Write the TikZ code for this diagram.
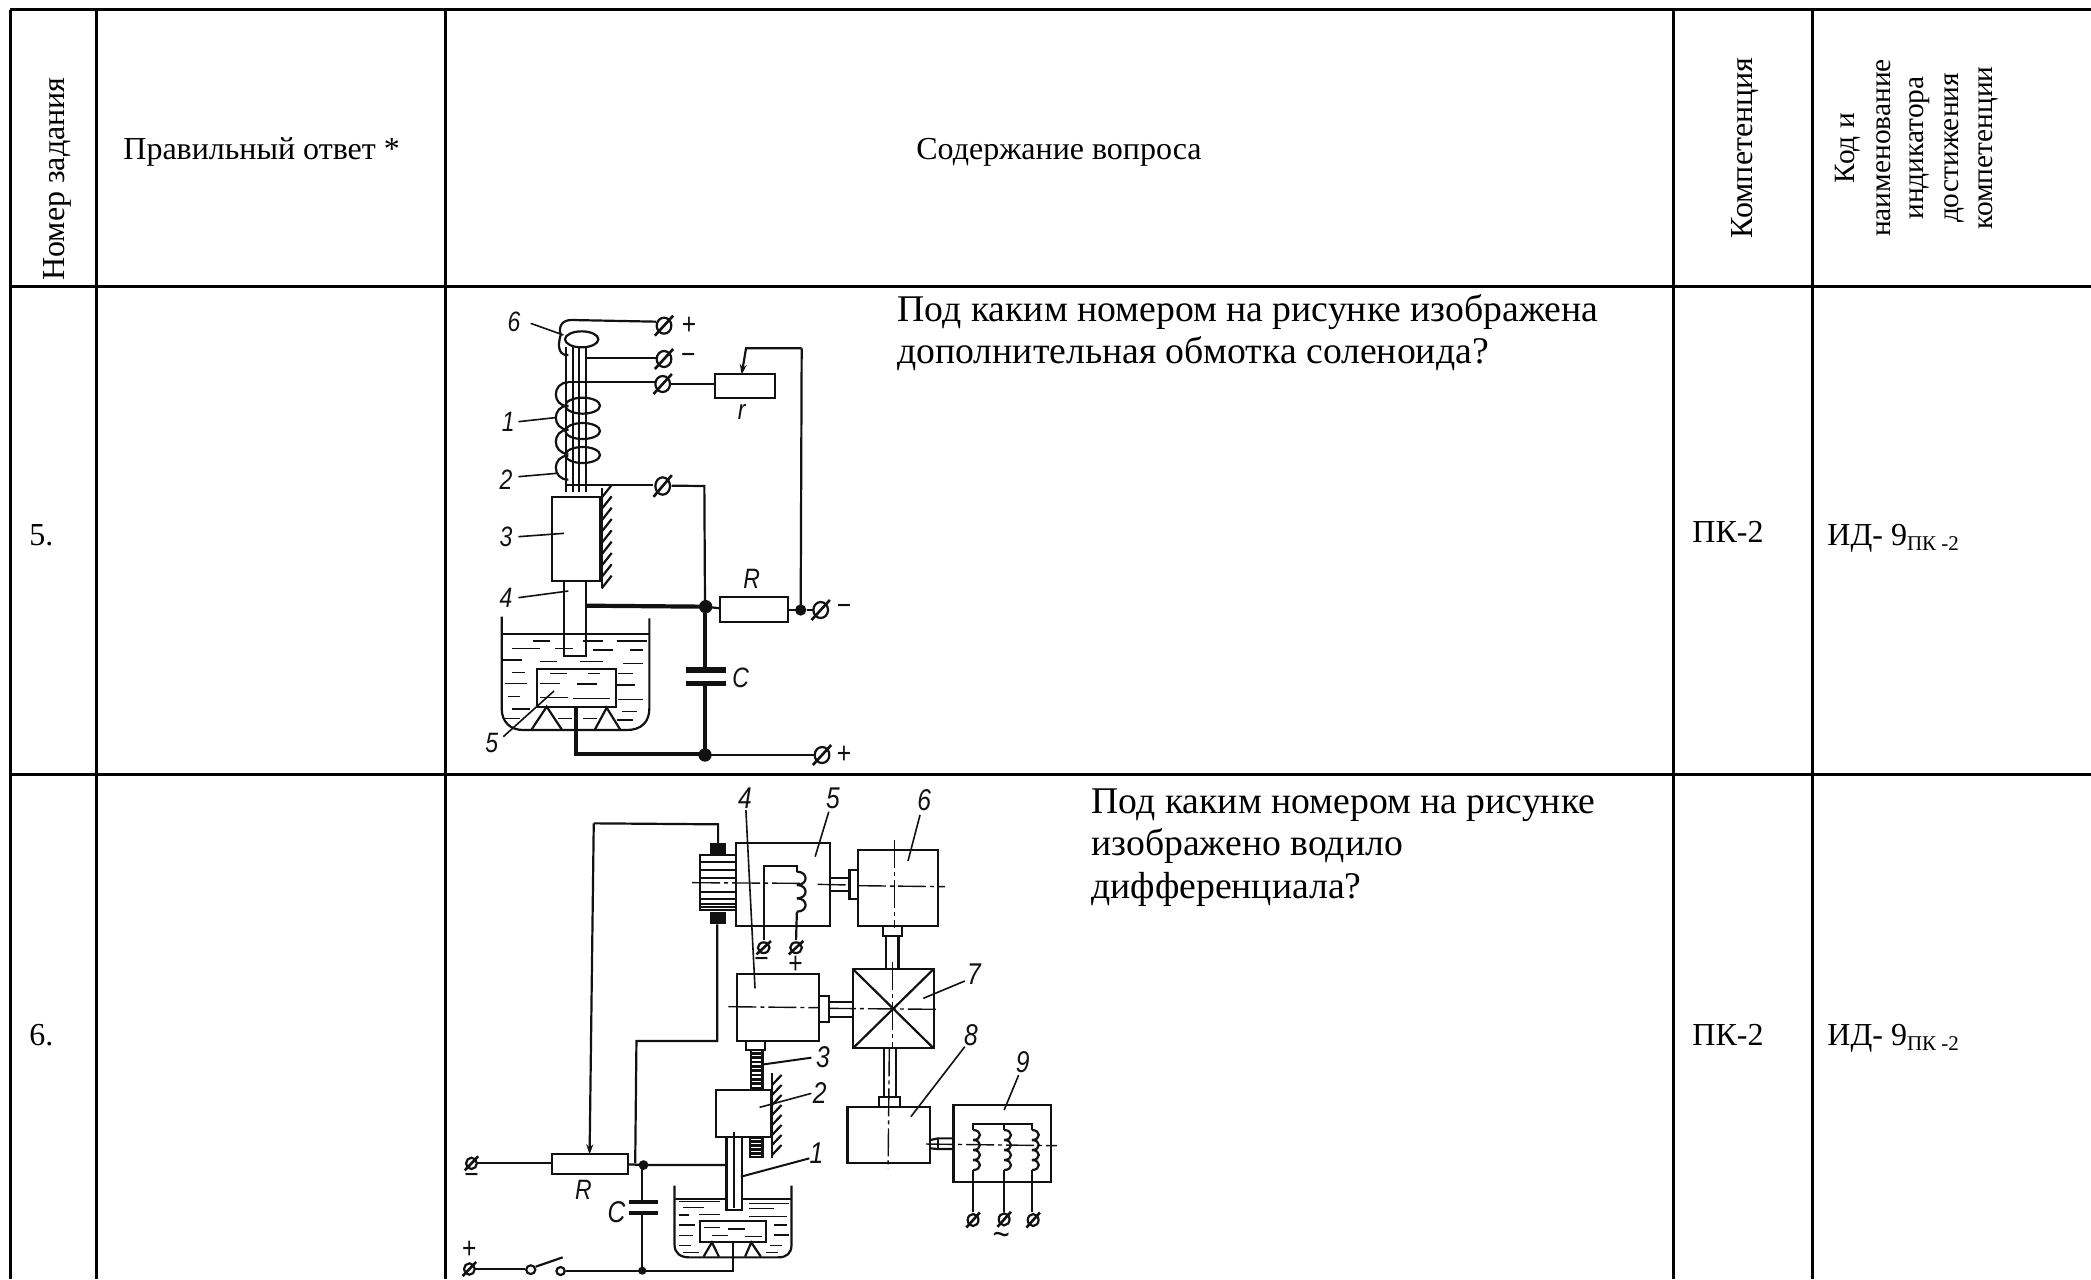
\documentclass[tikz,border=0pt]{standalone}
\usepackage{fontspec}
\setmainfont{Liberation Serif}
\newfontfamily\lblfont{Liberation Sans}[FakeStretch=0.82,ItalicFont=* Italic]
\usetikzlibrary{arrows.meta}
\definecolor{ink}{HTML}{111111}
\tikzset{
  grid/.style={line width=1.5pt,black},
  hdr/.style={font=\fontsize{16}{16}\selectfont,text=black,inner sep=0pt},
  hdrs/.style={font=\fontsize{14.7}{15}\selectfont,text=black,inner sep=0pt,rotate=90},
  qtext/.style={font=\fontsize{18.85}{19}\selectfont,text=black,inner sep=0pt,anchor=mid west},
  lbl/.style={font=\lblfont\itshape\fontsize{14}{14}\selectfont,text=ink,inner sep=0pt},
  lblb/.style={font=\lblfont\itshape\fontsize{15}{15}\selectfont,text=ink,inner sep=0pt},
  sym/.style={font=\lblfont\fontsize{15}{15}\selectfont,text=ink,inner sep=0pt},
  thin wire/.style={line width=1.1pt,ink},
  thick wire/.style={line width=2.1pt,ink},
  hair/.style={line width=0.8pt,ink},
  axis/.style={line width=0.7pt,ink,dash pattern=on 14pt off 2pt on 2pt off 2pt},
  blade/.style={line width=1.1pt,ink,-{Stealth[length=5pt,width=3.5pt]}},
}
\newcommand{\myterm}[4]{%
  \draw[thin wire,line width=1.1pt] (#1,#2) ellipse [x radius=#3,y radius=#4];
  \draw[thin wire,line width=1.3pt] (#1,#2) ++(-1.25*#3,1.25*#4) -- ++(2.5*#3,-2.5*#4);}
\newcommand{\mybumps}[5]{% x, ystart, step, count, width
  \foreach \k in {1,...,#4}{
    \pgfmathsetmacro{\ya}{#2+(\k-1)*#3}
    \pgfmathsetmacro{\yb}{#2+\k*#3}
    \draw[thin wire] (#1,\ya) .. controls (#1+#5,\ya) and (#1+#5,\yb) .. (#1,\yb);
  }}
\begin{document}
\begin{tikzpicture}[x=0.5pt,y=-0.5pt]
\useasboundingbox (0,0) rectangle (2091,1279);
\fill[white] (0,0) rectangle (2091,1279);
% table grid
\draw[grid] (10,10) -- (2091,10);
\draw[grid] (10,286) -- (2091,286);
\draw[grid] (10,774) -- (2091,774);
\foreach \vx in {10,96,445,1673,1812} \draw[grid] (\vx,10) -- (\vx,1279);
% header
\node[hdr,rotate=90] (hnum) at (57,179) {Номер задания};
\node[hdr,anchor=mid west] (hans) at (123,155) {Правильный ответ *};
\node[hdr] (hq) at (1059,152) {Содержание вопроса};
\node[hdr,rotate=90] (hcomp) at (1745,148) {Компетенция};
\node[hdrs] (hk1) at (1848,148) {Код и};
\node[hdrs] (hk2) at (1884,148) {наименование};
\node[hdrs] (hk3) at (1920,148) {индикатора};
\node[hdrs] (hk4) at (1954,148) {достижения};
\node[hdrs] (hk5) at (1988,148) {компетенции};
% rows
\node[hdr,anchor=mid west] (n5) at (29,541) {5.};
\node[hdr,anchor=mid west] (n6) at (29,1041) {6.};
\node[hdr,anchor=mid west] (c5) at (1692,538) {ПК-2};
\node[hdr,anchor=mid west] (c6) at (1692,1041) {ПК-2};
\node[hdr,anchor=mid west] (i5) at (1827,541) {ИД- 9\raisebox{-0.3ex}{\fontsize{10.5}{10.5}\selectfont ПК -2}};
\node[hdr,anchor=mid west] (i6) at (1827,1041) {ИД- 9\raisebox{-0.3ex}{\fontsize{10.5}{10.5}\selectfont ПК -2}};
\node[qtext] (q5a) at (897,317) {Под каким номером на рисунке изображена};
\node[qtext] (q5b) at (897,359) {дополнительная обмотка соленоида?};
\node[qtext] (q6a) at (1091,809) {Под каким номером на рисунке};
\node[qtext] (q6b) at (1091,851) {изображено водило};
\node[qtext] (q6c) at (1091,894) {дифференциала?};

% ===== Figure 1 (solenoid), zoom coordinates =====
\begin{scope}[shift={(440,285)},x=0.16667pt,y=-0.16667pt]
  \draw[thin wire] (648,110) -- (395,105) .. controls (365,105) and (355,125) .. (362,150) .. controls (350,190) and (360,212) .. (385,210);
  \draw[thin wire] (425,163) ellipse [x radius=50,y radius=24];
  \foreach \cx in {378,398,418,438} \draw[thin wire] (\cx,186) -- (\cx,620);
  \myterm{672}{122}{22}{24}
  \node[sym] (p1) at (747,122) {+};
  \draw[thin wire] (438,218) -- (648,218);
  \myterm{672}{222}{22}{24}
  \node[sym] (m1) at (745,222) {−};
  \draw[thin wire] (438,292) -- (648,292);
  \myterm{668}{297}{22}{24}
  \draw[thin wire] (692,297) -- (825,297);
  \draw[thin wire] (825,268) rectangle (1005,338);
  \node[lbl] (lr) at (905,380) {r};
  \draw[blade] (1085,190) -- (918,190) -- (905,268);
  \draw[thin wire] (1085,190) -- (1082,975);
  % winding
  \foreach \yy in {328,398,470,548}
    \draw[thin wire] (385,\yy-36) .. controls (335,\yy-36) and (335,\yy+36) .. (385,\yy+36);
  \foreach \yy in {362,438,510}
    \draw[thin wire] (428,\yy) ellipse [x radius=52,y radius=24];
  \draw[thin wire] (438,292) -- (385,292);
  \draw[thin wire] (378,600) -- (640,600);
  \myterm{668}{603}{22}{26}
  \draw[thin wire] (695,602) -- (793,603) -- (795,965);
  % block 3 and wall
  \draw[thin wire] (335,637) rectangle (480,888);
  \draw[thin wire] (485,610) -- (485,910);
  \foreach \hy in {600,634,668,702,736,770,804,838,872}
    \draw[thin wire] (485,\hy+38) -- (515,\hy);
  % electrode
  \draw[thin wire] (372,888) -- (372,1112) -- (437,1112) -- (437,888);
  % R branch
  \draw[thick wire] (437,962) -- (795,965);
  \fill[ink] (797,965) circle [radius=20];
  \draw[thin wire] (840,935) rectangle (1045,1010);
  \draw[thin wire] (797,965) -- (840,970);
  \draw[thin wire] (1045,975) -- (1082,975);
  \fill[ink] (1082,975) circle [radius=17];
  \myterm{1142}{975}{22}{24}
  \draw[thin wire] (1100,975) -- (1120,975);
  \node[sym] (m2) at (1212,975) {−};
  \node[lbl] (lR) at (935,882) {R};
  % capacitor
  \draw[thick wire] (795,965) -- (795,1150);
  \draw[thick wire,line width=2.6pt] (738,1155) -- (858,1155);
  \draw[thick wire,line width=2.6pt] (738,1195) -- (858,1195);
  \draw[thick wire] (795,1195) -- (795,1410);
  \node[lbl] (lC) at (902,1178) {C};
  \fill[ink] (795,1410) circle [radius=20];
  \draw[thick wire] (408,1268) -- (408,1408) -- (795,1408);
  \draw[thin wire] (795,1410) -- (1122,1410);
  \myterm{1146}{1410}{22}{24}
  \node[sym] (p2) at (1212,1410) {+};
  % tank
  \draw[thin wire] (185,995) -- (185,1270) .. controls (185,1310) and (210,1335) .. (250,1335) -- (560,1335) .. controls (605,1335) and (628,1310) .. (628,1270) -- (628,1000);
  \draw[thin wire] (185,1048) -- (628,1048);
  \draw[thin wire] (290,1152) rectangle (528,1265);
  \draw[thin wire] (275,1333) -- (320,1265) -- (365,1333);
  \draw[thin wire] (465,1333) -- (500,1268) -- (540,1333);
  \foreach \xa/\xb/\yy in {280/330/1068,430/490/1068,530/620/1068,215/300/1090,345/400/1090,460/520/1095,570/610/1095,190/245/1125,300/350/1130,420/490/1130,550/610/1135,215/255/1162,330/380/1165,445/480/1165,535/580/1165,195/260/1195,300/360/1195,410/470/1197,530/585/1200,205/240/1235,300/385/1237,400/510/1240,535/610/1243,215/270/1272,545/590/1280,190/240/1300,355/395/1300,430/470/1300,530/580/1305}
    \draw[hair] (\xa,\yy) -- (\xb,\yy);
  % labels
  \node[lbl] (l6) at (222,110) {6};
  \draw[hair] (272,115) -- (370,150);
  \node[lbl] (l1) at (205,412) {1};
  \draw[hair] (235,410) -- (345,398);
  \node[lbl] (l2) at (198,585) {2};
  \draw[hair] (235,575) -- (350,565);
  \node[lbl] (l3) at (198,755) {3};
  \draw[hair] (235,755) -- (372,745);
  \node[lbl] (l4) at (198,940) {4};
  \draw[hair] (235,938) -- (385,918);
  \node[lbl] (l5) at (155,1375) {5};
  \draw[hair] (190,1355) -- (342,1218);
\end{scope}

% ===== Figure 2, zoom coordinates (x 2.41 px per unit, y 3) =====
\begin{scope}[shift={(430,775)},x=0.20727pt,y=-0.16667pt]
  % coil assembly
  \draw[thin wire] (395,145) -- (695,148) -- (695,205);
  \draw[blade] (395,145) -- (385,1138);
  \fill[ink] (675,205) rectangle (715,240);
  \fill[ink] (675,410) rectangle (715,448);
  \draw[thin wire] (652,240) rectangle (738,405);
  \foreach \yy in {262,285,308,350,372,386,396} \draw[thin wire] (652,\yy) -- (738,\yy);
  \draw[thin wire] (738,205) rectangle (965,452);
  \draw[axis] (632,323) -- (895,325);
  \draw[axis] (935,328) -- (1010,330);
  \draw[thin wire] (805,495) -- (805,272) -- (885,272) -- (885,290);
  \mybumps{885}{290}{40}{3}{28}
  \draw[thin wire] (885,410) -- (883,495);
  \myterm{805}{518}{14}{16}
  \myterm{883}{518}{14}{16}
  \node[sym] (mm) at (800,565) {−};
  \node[sym] (pp) at (882,570) {+};
  % box 6
  \draw[thin wire] (965,310) -- (1012,310);
  \draw[thin wire] (965,348) -- (1012,348);
  \draw[thin wire] (1012,285) rectangle (1032,372);
  \draw[thin wire] (1032,225) rectangle (1225,453);
  \draw[axis] (1120,195) -- (1120,460);
  \draw[axis] (1032,332) -- (1242,335);
  \draw[thin wire] (1092,453) rectangle (1138,482);
  \draw[thin wire] (1100,482) -- (1100,582);
  \draw[thin wire] (1130,482) -- (1130,582);
  % box 7
  \draw[thin wire] (1020,582) rectangle (1215,820);
  \draw[thin wire] (1020,582) -- (1215,820);
  \draw[thin wire] (1215,582) -- (1020,820);
  \draw[axis] (1115,560) -- (1115,820);
  \draw[axis] (960,700) -- (1228,703);
  % box 4
  \draw[thin wire] (740,597) rectangle (938,797);
  \draw[axis] (720,695) -- (938,698);
  \draw[thin wire] (938,663) rectangle (962,742);
  \draw[thin wire] (962,680) -- (1020,680);
  \draw[thin wire] (962,725) -- (1020,725);
  \draw[thin wire] (762,797) rectangle (808,825);
  % screw 3
  \draw[thin wire] (775,825) rectangle (802,945);
  \foreach \yy in {835,848,861,874,887,900,913,926,939} \draw[thin wire,line width=1.3pt] (775,\yy) -- (802,\yy);
  % box 2 + wall
  \draw[thin wire] (690,945) rectangle (822,1087);
  \draw[thin wire] (825,895) -- (825,1150);
  \foreach \hy in {900,930,960,990,1020,1050,1080,1110}
    \draw[thin wire] (825,\hy+30) -- (848,\hy);
  \draw[thin wire] (772,1090) rectangle (802,1145);
  \foreach \yy in {1100,1112,1124,1136} \draw[thin wire,line width=1.3pt] (772,\yy) -- (802,\yy);
  % electrode
  \draw[thin wire] (715,1087) -- (715,1305) -- (752,1305) -- (752,1087);
  \draw[hair] (733,1070) -- (733,1300);
  % wiring
  \draw[thin wire] (693,448) -- (693,798) -- (498,798) -- (495,1165);
  \myterm{100}{1165}{13}{17}
  \draw[thin wire] (113,1165) -- (295,1165);
  \draw[thin wire] (295,1138) rectangle (478,1197);
  \draw[thin wire] (478,1168) -- (515,1170) -- (715,1170);
  \draw[thin wire,fill=ink] (515,1170) ellipse [x radius=9,y radius=11];
  \draw[thin wire] (512,1170) -- (512,1282);
  \draw[thick wire] (480,1282) -- (550,1282);
  \draw[thick wire] (480,1315) -- (550,1315);
  \draw[thin wire] (512,1315) -- (512,1487);
  \fill[ink] (512,1487) ellipse [x radius=10,y radius=12];
  \node[sym] (mm2) at (100,1212) {−};
  \node[sym] (pp2) at (95,1425) {+};
  \myterm{95}{1482}{13}{17}
  \draw[thin wire] (108,1482) -- (230,1482);
  \draw[thin wire] (243,1484) ellipse [x radius=11,y radius=13];
  \draw[thin wire] (255,1475) -- (320,1447);
  \draw[thin wire] (315,1488) ellipse [x radius=10,y radius=12];
  \draw[thin wire] (327,1487) -- (730,1487) -- (730,1402);
  % tank
  \draw[thin wire] (590,1232) -- (590,1410) .. controls (590,1435) and (605,1447) .. (625,1447) -- (840,1447) .. controls (860,1447) and (872,1435) .. (872,1410) -- (872,1232);
  \draw[thin wire] (590,1272) -- (715,1272);
  \draw[thin wire] (752,1272) -- (872,1272);
  \draw[thin wire] (652,1337) rectangle (810,1400);
  \draw[thin wire] (660,1445) -- (680,1402) -- (697,1445);
  \draw[thin wire] (760,1445) -- (775,1402) -- (798,1445);
  \foreach \xa/\xb/\yy in {600/700/1280,770/865/1285,610/660/1298,770/830/1300,600/625/1320,650/700/1318,770/860/1325,600/640/1350,830/860/1350,660/700/1358,720/760/1362,600/635/1382,830/865/1380,680/720/1382,760/800/1385,600/630/1412,820/850/1412,610/650/1432,810/840/1432}
    \draw[hair] (\xa,\yy) -- (\xb,\yy);
  % box 8
  \draw[thin wire] (1007,995) rectangle (1207,1163);
  \draw[thin wire] (1083,965) rectangle (1133,995);
  \draw[thin wire] (1095,820) -- (1095,965);
  \draw[thin wire] (1125,820) -- (1125,965);
  \draw[axis] (1108,820) -- (1105,1180);
  % box 9
  \draw[thin wire] (1263,990) rectangle (1498,1222);
  \draw[thin wire] (1207,1095) -- (1225,1090) -- (1263,1090);
  \draw[thin wire] (1207,1120) -- (1225,1122) -- (1263,1122);
  \draw[thin wire] (1225,1090) -- (1225,1122);
  \draw[axis] (1197,1107) -- (1512,1112);
  \draw[thin wire] (1310,1065) -- (1310,1048) -- (1452,1048) -- (1452,1065);
  \draw[thin wire] (1385,1048) -- (1385,1065);
  \foreach \cx in {1310,1385,1452}{
    \mybumps{\cx}{1065}{30}{4}{22}
    \draw[thin wire] (\cx,1185) -- (\cx,1312);
  }
  \myterm{1310}{1335}{13}{18}
  \myterm{1385}{1333}{13}{18}
  \myterm{1455}{1335}{13}{18}
  \node[sym,font=\lblfont\fontsize{18}{18}\selectfont] (tilde) at (1378,1393) {\char"007E};
  % labels
  \node[lblb] (b4) at (760,70) {4};
  \draw[hair] (762,105) -- (784,640);
  \node[lblb] (b5) at (972,70) {5};
  \draw[hair] (962,110) -- (929,245);
  \node[lblb] (b6) at (1192,75) {6};
  \draw[hair] (1182,120) -- (1153,258);
  \node[lblb] (b7) at (1312,598) {7};
  \draw[hair] (1290,618) -- (1190,670);
  \node[lblb] (b8) at (1305,780) {8};
  \draw[hair] (1290,815) -- (1160,1025);
  \node[lblb] (b9) at (1430,860) {9};
  \draw[hair] (1420,900) -- (1385,1005);
  \node[lblb] (b3) at (948,845) {3};
  \draw[hair,line width=1pt] (805,868) -- (920,848);
  \node[lblb] (b2) at (940,955) {2};
  \draw[hair] (795,997) -- (920,955);
  \node[lblb] (b1) at (932,1135) {1};
  \draw[hair,line width=1pt] (750,1205) -- (915,1150);
  \node[lbl] (bR) at (370,1245) {R};
  \node[lblb] (bC) at (450,1312) {C};
\end{scope}
\end{tikzpicture}
\end{document}
